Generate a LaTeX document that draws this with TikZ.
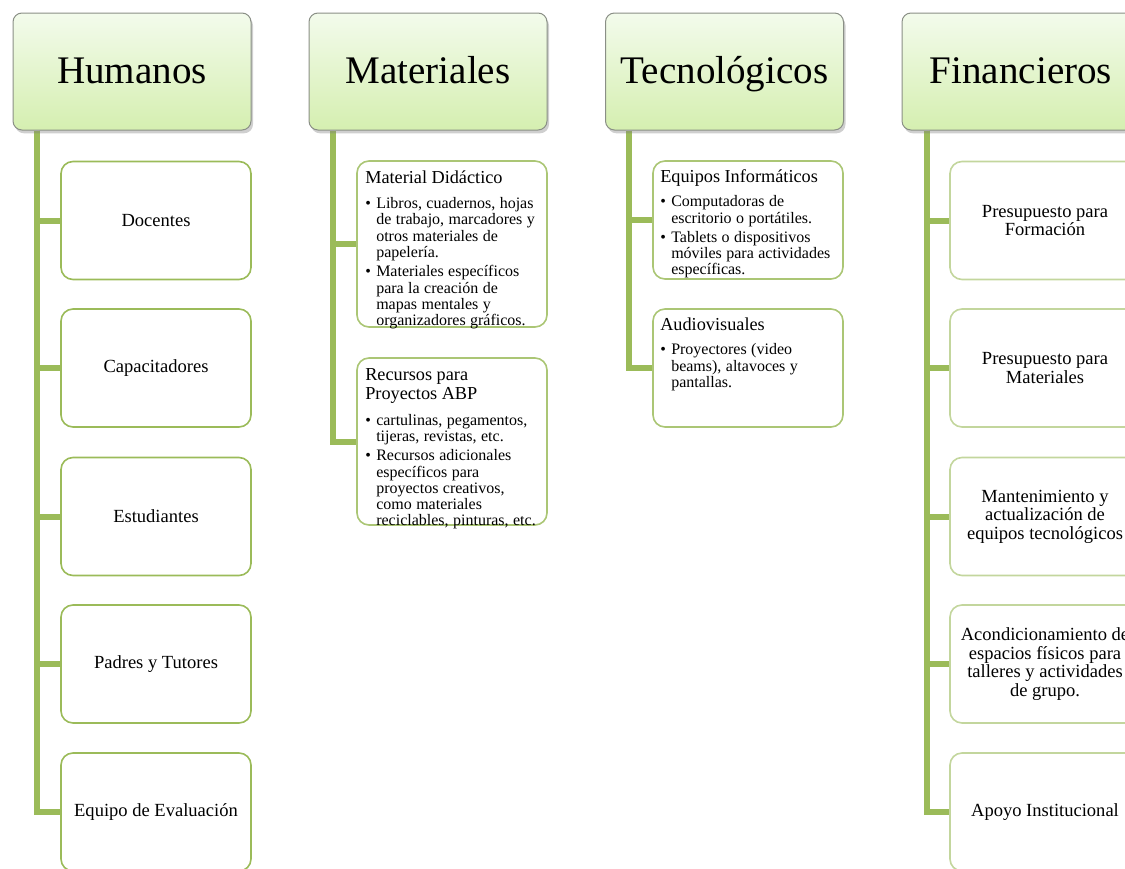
\documentclass[tikz,border=0pt]{standalone}
\usepackage{fontspec}
\setmainfont{Liberation Serif}
\usetikzlibrary{shadows,backgrounds}
\newlength\px \setlength\px{0.75pt}
\definecolor{conncol}{HTML}{9BBB59}
\definecolor{hdtop}{HTML}{F3FBEC}
\definecolor{hdbot}{HTML}{D5EFB0}
\definecolor{hdborder}{HTML}{8A8F86}
\definecolor{leafA}{HTML}{9BBB59}
\definecolor{leafB}{HTML}{ABC675}
\definecolor{leafC}{HTML}{C3D69D}
\newcommand\bu{\makebox[11\px][l]{\textbullet}}
\newcommand\ii{\hspace*{11\px}}
\newcommand\hfont{\fontsize{13.7}{14.25}\selectfont}
\newcommand\bfont{\fontsize{12}{12.2}\selectfont}
\tikzset{
 hdr/.style={draw=hdborder, line width=1\px, rounded corners=9\px, top color=hdtop, bottom color=hdbot,
   minimum width=238\px, minimum height=117\px, inner sep=0pt, font=\fontsize{29.3}{30}\selectfont,
   text height=20pt, text depth=2.75pt,
   drop shadow={shadow xshift=1.5pt, shadow yshift=-2.5pt, opacity=0.38}},
 leaf/.style={line width=1.6\px, rounded corners=12\px, fill=white, minimum width=190\px,
   minimum height=118\px, inner sep=0pt, align=center, font=\fontsize{13.9}{13.9}\selectfont},
 leafa/.style={leaf, draw=leafA},
 leafb/.style={leaf, draw=leafB},
 leafc/.style={leaf, draw=leafC},
 conn/.style={draw=conncol, line width=6\px},
 blk/.style={anchor=base west, inner sep=0pt, text width=220\px, align=left}
}
\begin{document}
\begin{tikzpicture}[x=0.75pt, y=-0.75pt]
\useasboundingbox (0,0) rectangle (1125,868);
\clip (0,0) rectangle (1125,868);
% headers
\node[hdr] (hum) at (132,71.5) {Humanos};
\node[hdr] (mat) at (428,71.5) {Materiales};
\node[hdr] (tec) at (724.5,71.5) {Tecnológicos};
\node[hdr] (fin) at (1021,71.5) {Financieros};
% Humanos children
\node[leafa] (h1) at (156,220.5) {Docentes};
\node[leafa] (h2) at (156,368) {Capacitadores};
\node[leafa] (h3) at (156,516.5) {Estudiantes};
\node[leafa] (h4) at (156,664) {Padres y Tutores};
\node[leafa] (h5) at (156,812) {Equipo de Evaluación};
% Materiales children
\node[leafb, minimum height=166\px] (m1) at (452,244) {};
\node[leafb, minimum height=167\px] (m2) at (452,441.5) {};
\node[blk] (m1t) at (365,183) {\hfont Material Didáctico\par\vspace{7pt}\bfont
\bu Libros, cuadernos, hojas\\
\ii de trabajo, marcadores y\\
\ii otros materiales de\\
\ii papelería.\\[2.3pt]
\bu Materiales específicos\\
\ii para la creación de\\
\ii mapas mentales y\\
\ii organizadores gráficos.};
\node[blk] (m2t) at (365,380) {\hfont Recursos para\\Proyectos ABP\par\vspace{7.5pt}\bfont
\bu cartulinas, pegamentos,\\
\ii tijeras, revistas, etc.\\[2.3pt]
\bu Recursos adicionales\\
\ii específicos para\\
\ii proyectos creativos,\\
\ii como materiales\\
\ii reciclables, pinturas, etc.};
% Tecnologicos children
\node[leafb] (t1) at (748,220) {};
\node[leafb] (t2) at (748,368) {};
\node[blk] (t1t) at (660,182) {\hfont Equipos Informáticos\par\vspace{6.5pt}\bfont
\bu Computadoras de\\
\ii escritorio o portátiles.\\[2.3pt]
\bu Tablets o dispositivos\\
\ii móviles para actividades\\
\ii específicas.};
\node[blk] (t2t) at (660,330) {\hfont Audiovisuales\par\vspace{6.5pt}\bfont
\bu Proyectores (video\\
\ii beams), altavoces y\\
\ii pantallas.};
% Financieros children
\node[leafc] (f1) at (1045,220.5) {Presupuesto para\\Formación};
\node[leafc] (f2) at (1045,368) {Presupuesto para\\Materiales};
\node[leafc] (f3) at (1045,516.5) {Mantenimiento y\\actualización de\\equipos tecnológicos};
\node[leafc] (f4) at (1045,664) {Acondicionamiento de\\espacios físicos para\\talleres y actividades\\de grupo.};
\node[leafc] (f5) at (1045,812) {Apoyo Institucional};
% connectors
\begin{scope}[on background layer]
\foreach \c in {h1,h2,h3,h4,h5} \draw[conn] ([xshift=24.5\px]hum.south west) |- (\c.west);
\foreach \c in {m1,m2} \draw[conn] ([xshift=24\px]mat.south west) |- (\c.west);
\foreach \c in {t1,t2} \draw[conn] ([xshift=24\px]tec.south west) |- (\c.west);
\foreach \c in {f1,f2,f3,f4,f5} \draw[conn] ([xshift=25\px]fin.south west) |- (\c.west);
\end{scope}
\end{tikzpicture}
\end{document}
